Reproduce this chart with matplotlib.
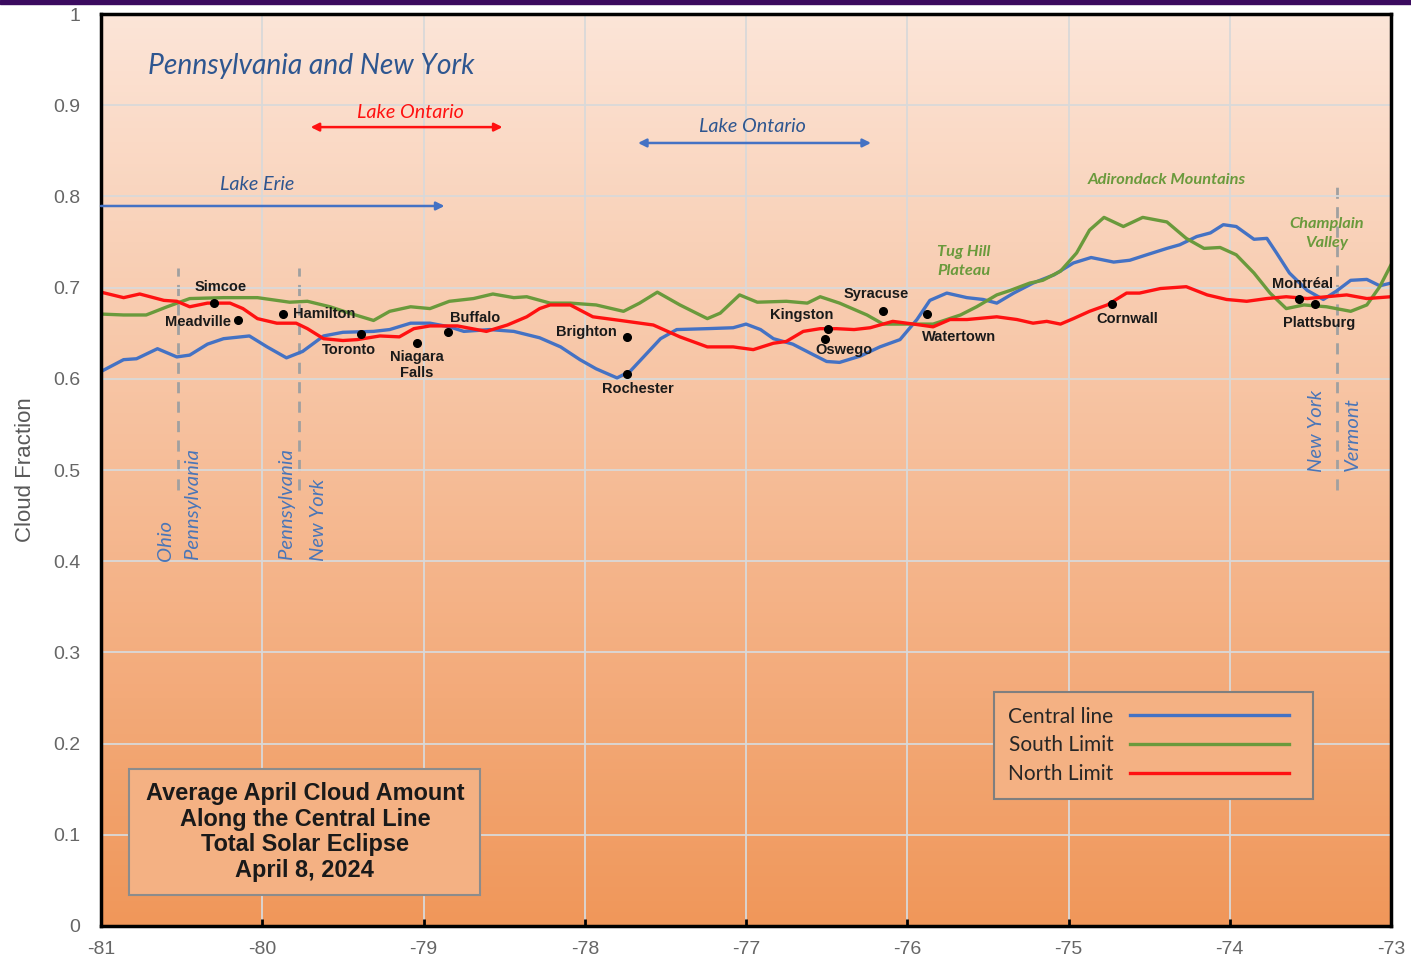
import numpy as np
import matplotlib.pyplot as plt
from matplotlib.colors import LinearSegmentedColormap
from matplotlib.patches import Rectangle

plt.rcParams['axes.unicode_minus'] = False

# Central line (longitude, cloud fraction)
central_lon = [-81.0, -80.86, -80.78, -80.65, -80.53, -80.45, -80.34, -80.24, -80.08, -79.97, -79.85, -79.75,
               -79.62, -79.50, -79.31, -79.21, -79.08, -78.96, -78.84, -78.75, -78.59, -78.44, -78.28, -78.15,
               -78.03, -77.93, -77.80, -77.72, -77.53, -77.43, -77.24, -77.08, -77.00, -76.91, -76.83, -76.71,
               -76.60, -76.50, -76.42, -76.29, -76.17, -76.045, -75.94, -75.86, -75.755, -75.63, -75.53, -75.445,
               -75.34, -75.22, -75.09, -74.97, -74.86, -74.72, -74.62, -74.515, -74.39, -74.31, -74.205, -74.12,
               -74.04, -73.96, -73.85, -73.77, -73.71, -73.63, -73.52, -73.42, -73.34, -73.25, -73.15, -73.07, -73.0]
central_val = [0.608, 0.621, 0.622, 0.633, 0.624, 0.626, 0.638, 0.644, 0.647, 0.635, 0.623, 0.630,
               0.647, 0.651, 0.652, 0.654, 0.661, 0.661, 0.657, 0.652, 0.654, 0.652, 0.645, 0.635,
               0.621, 0.611, 0.601, 0.608, 0.644, 0.654, 0.655, 0.656, 0.660, 0.654, 0.644, 0.638,
               0.628, 0.619, 0.618, 0.625, 0.635, 0.643, 0.665, 0.686, 0.694, 0.689, 0.687, 0.683,
               0.694, 0.705, 0.714, 0.727, 0.733, 0.728, 0.730, 0.736, 0.743, 0.747, 0.756, 0.760,
               0.769, 0.767, 0.753, 0.754, 0.738, 0.716, 0.697, 0.687, 0.696, 0.708, 0.709, 0.702, 0.705]

# South limit
south_lon = [-81.0, -80.86, -80.72, -80.59, -80.45, -80.24, -80.03, -79.91, -79.83, -79.72, -79.58, -79.46,
             -79.31, -79.21, -79.08, -78.96, -78.84, -78.69, -78.57, -78.44, -78.36, -78.215, -78.09, -77.93,
             -77.76, -77.66, -77.55, -77.41, -77.24, -77.16, -77.04, -76.93, -76.75, -76.62, -76.54, -76.42,
             -76.25, -76.15, -76.00, -75.84, -75.67, -75.57, -75.445, -75.36, -75.24, -75.16, -75.05, -74.95,
             -74.87, -74.78, -74.66, -74.54, -74.39, -74.27, -74.16, -74.06, -73.96, -73.85, -73.75, -73.65,
             -73.54, -73.40, -73.25, -73.15, -73.07, -73.0]
south_val = [0.671, 0.670, 0.670, 0.679, 0.688, 0.689, 0.689, 0.686, 0.684, 0.685, 0.679, 0.672,
             0.664, 0.674, 0.679, 0.677, 0.685, 0.688, 0.693, 0.689, 0.690, 0.683, 0.683, 0.681,
             0.674, 0.683, 0.695, 0.681, 0.666, 0.672, 0.692, 0.684, 0.685, 0.683, 0.690, 0.683,
             0.670, 0.660, 0.660, 0.660, 0.670, 0.679, 0.692, 0.697, 0.705, 0.708, 0.718, 0.738,
             0.763, 0.777, 0.767, 0.777, 0.772, 0.754, 0.743, 0.744, 0.736, 0.716, 0.694, 0.677,
             0.681, 0.679, 0.674, 0.681, 0.701, 0.725]

# North limit
north_lon = [-81.0, -80.86, -80.76, -80.61, -80.53, -80.45, -80.34, -80.20, -80.12, -80.03, -79.91, -79.79,
             -79.72, -79.62, -79.50, -79.41, -79.27, -79.15, -79.06, -78.96, -78.79, -78.61, -78.48, -78.36,
             -78.28, -78.215, -78.09, -77.95, -77.78, -77.575, -77.41, -77.24, -77.08, -76.955, -76.83, -76.75,
             -76.645, -76.54, -76.44, -76.33, -76.23, -76.09, -75.96, -75.84, -75.735, -75.63, -75.445, -75.32,
             -75.22, -75.135, -75.05, -74.97, -74.87, -74.76, -74.64, -74.56, -74.43, -74.27, -74.14, -74.02,
             -73.895, -73.77, -73.65, -73.52, -73.40, -73.275, -73.15, -73.0]
north_val = [0.695, 0.689, 0.693, 0.686, 0.685, 0.679, 0.683, 0.683, 0.677, 0.666, 0.661, 0.661,
             0.655, 0.644, 0.642, 0.643, 0.647, 0.646, 0.655, 0.658, 0.658, 0.652, 0.659, 0.668,
             0.677, 0.681, 0.681, 0.668, 0.664, 0.659, 0.646, 0.635, 0.635, 0.632, 0.639, 0.641,
             0.652, 0.655, 0.655, 0.654, 0.656, 0.663, 0.660, 0.657, 0.665, 0.665, 0.668, 0.665,
             0.661, 0.663, 0.660, 0.666, 0.674, 0.681, 0.694, 0.694, 0.699, 0.701, 0.692, 0.687,
             0.685, 0.688, 0.690, 0.688, 0.690, 0.692, 0.688, 0.690]

# cities
city_names = ['Simcoe', 'Meadville', 'Hamilton', 'Toronto', 'Niagara\nFalls', 'Buffalo', 'Brighton',
              'Rochester', 'Kingston', 'Oswego', 'Syracuse', 'Watertown', 'Cornwall', 'Montréal', 'Plattsburg']
city_lon = [-80.30, -80.15, -79.87, -79.39, -79.04, -78.85, -77.74, -77.74, -76.49, -76.51, -76.15, -75.88,
            -74.73, -73.57, -73.47]
city_val = [0.6835, 0.6645, 0.6706, 0.649, 0.6395, 0.651, 0.646, 0.605, 0.655, 0.644, 0.6743, 0.6706,
            0.682, 0.688, 0.6817]
# label offsets in pixels (dx, dy up) and alignment
city_offsets = [(7, 16, 'center'), (-7, -2, 'right'), (10, 0, 'left'), (-12, -16, 'center'), (0, -22, 'center'),
                (27, 14, 'center'), (-10, 5, 'right'), (11, -15, 'center'), (-27, 14, 'center'),
                (19, -11, 'center'), (-7, 17, 'center'), (32, -23, 'center'), (15, -15, 'center'),
                (3, 15, 'center'), (4, -19, 'center')]

series_names = ['Central line', 'South Limit', 'North Limit']
series_colors = ['#4472c4', '#6a9a3c', '#ff1111']

fig = plt.figure(figsize=(14.11, 9.67), dpi=100)
fig.patch.set_facecolor('white')
ax = fig.add_axes([0.0716, 0.0424, 0.91425, 0.9431])

# purple strip on top
fig.add_artist(Rectangle((0, 1 - 4 / 967), 1, 4 / 967, transform=fig.transFigure, color='#3b0b5f'))

# gradient background
cmap = LinearSegmentedColormap.from_list('bg', ['#f0975a', '#f6bd98', '#fce5d8'])
ax.imshow(np.linspace(0, 1, 256).reshape(-1, 1), extent=[-81, -73, 0, 1], aspect='auto',
          cmap=cmap, origin='lower', zorder=-1)

ax.set_xlim(-81, -73)
ax.set_ylim(0, 1)
ax.set_xticks(np.arange(-81, -72))
ax.set_xticklabels([str(v) for v in range(-81, -72)])
ax.set_yticks(np.arange(0, 1.01, 0.1))
ax.set_yticklabels(['0', '0.1', '0.2', '0.3', '0.4', '0.5', '0.6', '0.7', '0.8', '0.9', '1'])
ax.grid(color='#d9d9d9', lw=1.3)
ax.tick_params(axis='x', direction='in', length=5, width=2, color='black', labelsize=14,
               labelcolor='#666666', pad=11)
ax.tick_params(axis='y', length=0, labelsize=14, labelcolor='#666666', pad=15)
for lab in ax.get_xticklabels() + ax.get_yticklabels():
    lab.set_family('Liberation Sans')
for s in ax.spines.values():
    s.set_linewidth(2.5)
    s.set_color('black')
ax.set_ylabel('Cloud Fraction', fontsize=16, color='#595959', family='Liberation Sans', labelpad=12)

# lines
l1, = ax.plot(central_lon, central_val, color=series_colors[0], lw=2.4, solid_joinstyle='round')
l2, = ax.plot(south_lon, south_val, color=series_colors[1], lw=2.4, solid_joinstyle='round')
l3, = ax.plot(north_lon, north_val, color=series_colors[2], lw=2.4, solid_joinstyle='round')

# state border dashed lines
for x, y0, y1 in [(-80.52, 0.478, 0.7215), (-79.77, 0.478, 0.7215), (-73.335, 0.478, 0.8125)]:
    ax.plot([x, x], [y0, y1], color='#a0a0a0', lw=2, dashes=(4, 3), zorder=1.5)

# cities
ax.plot(city_lon, city_val, 'o', color='black', ms=5.5, zorder=5)
for name, x, y, (dx, dy, ha) in zip(city_names, city_lon, city_val, city_offsets):
    ax.annotate(name, (x, y), xytext=(dx, dy), textcoords='offset pixels', ha=ha, va='center',
                fontsize=10.5, fontweight='bold', color='#1a1a1a', family='Liberation Sans',
                linespacing=1.2, zorder=6)

# region texts
ax.text(-80.71, 0.943, 'Pennsylvania and New York', fontsize=20.3, style='italic', color='#2e5690',
        family='Lato', ha='left', va='center')
ax.text(-79.08, 0.8925, 'Lake Ontario', fontsize=14.2, style='italic', color='#ff1111', family='Lato',
        ha='center', va='center')
ax.text(-76.96, 0.877, 'Lake Ontario', fontsize=14.2, style='italic', color='#2e5690', family='Lato',
        ha='center', va='center')
ax.text(-80.03, 0.8136, 'Lake Erie', fontsize=14.2, style='italic', color='#2e5690', family='Lato',
        ha='center', va='center')
green_txt = '#6a9a3c'
ax.text(-74.39, 0.818, 'Adirondack Mountains', fontsize=11.8, style='italic', fontweight='bold',
        color=green_txt, family='Lato', ha='center', va='center')
ax.text(-75.65, 0.729, 'Tug Hill\nPlateau', fontsize=11.8, style='italic', fontweight='bold',
        color=green_txt, family='Lato', ha='center', va='center', linespacing=1.45)
ax.text(-73.40, 0.759, 'Champlain\nValley', fontsize=11.8, style='italic', fontweight='bold',
        color=green_txt, family='Lato', ha='center', va='center', linespacing=1.45)

# arrows
ax.annotate('', xy=(-78.51, 0.876), xytext=(-79.70, 0.876),
            arrowprops=dict(arrowstyle='<|-|>', color='#ff1111', lw=1.8, mutation_scale=12, shrinkA=0, shrinkB=0))
ax.annotate('', xy=(-76.225, 0.8586), xytext=(-77.67, 0.8586),
            arrowprops=dict(arrowstyle='<|-|>', color='#4472c4', lw=1.8, mutation_scale=12, shrinkA=0, shrinkB=0))
ax.annotate('', xy=(-78.87, 0.7895), xytext=(-81.0, 0.7895),
            arrowprops=dict(arrowstyle='-|>', color='#4472c4', lw=1.8, mutation_scale=12, shrinkA=0, shrinkB=0))

# rotated state labels
state_color = '#4a76b8'
for txt, x, y in [('Ohio', -80.60, 0.423), ('Pennsylvania', -80.43, 0.463), ('Pennsylvania', -79.85, 0.463),
                  ('New York', -79.65, 0.445), ('New York', -73.46, 0.543), ('Vermont', -73.24, 0.539)]:
    ax.text(x, y, txt, rotation=90, fontsize=14.6, style='italic', color=state_color, family='Lato',
            ha='center', va='center')

# legend
leg = ax.legend([l1, l2, l3], series_names, loc='upper left', bbox_to_anchor=(0.692, 0.2566, 0.2475, 0.0),
                mode='expand', markerfirst=False, handlelength=7.6, fancybox=False, facecolor='#f4b183',
                edgecolor='#7f7f7f', framealpha=1, prop={'family': 'Lato', 'size': 15},
                labelspacing=0.42, borderpad=0.7, borderaxespad=0)
leg.get_frame().set_linewidth(1.5)
for t in leg.get_texts():
    t.set_color('#262626')

# title box
ax.add_patch(Rectangle((0.0217, 0.034), 0.272, 0.138, transform=ax.transAxes, facecolor='#f4b183',
                       edgecolor='#8c8c8c', lw=1.5, zorder=4))
ax.text(0.158, 0.103, 'Average April Cloud Amount\nAlong the Central Line\nTotal Solar Eclipse\nApril 8, 2024',
        transform=ax.transAxes, ha='center', va='center', fontsize=16.9, fontweight='bold',
        color='#1a1a1a', family='Liberation Sans', linespacing=1.15, zorder=5)

fig.savefig('out.png', dpi=100)
